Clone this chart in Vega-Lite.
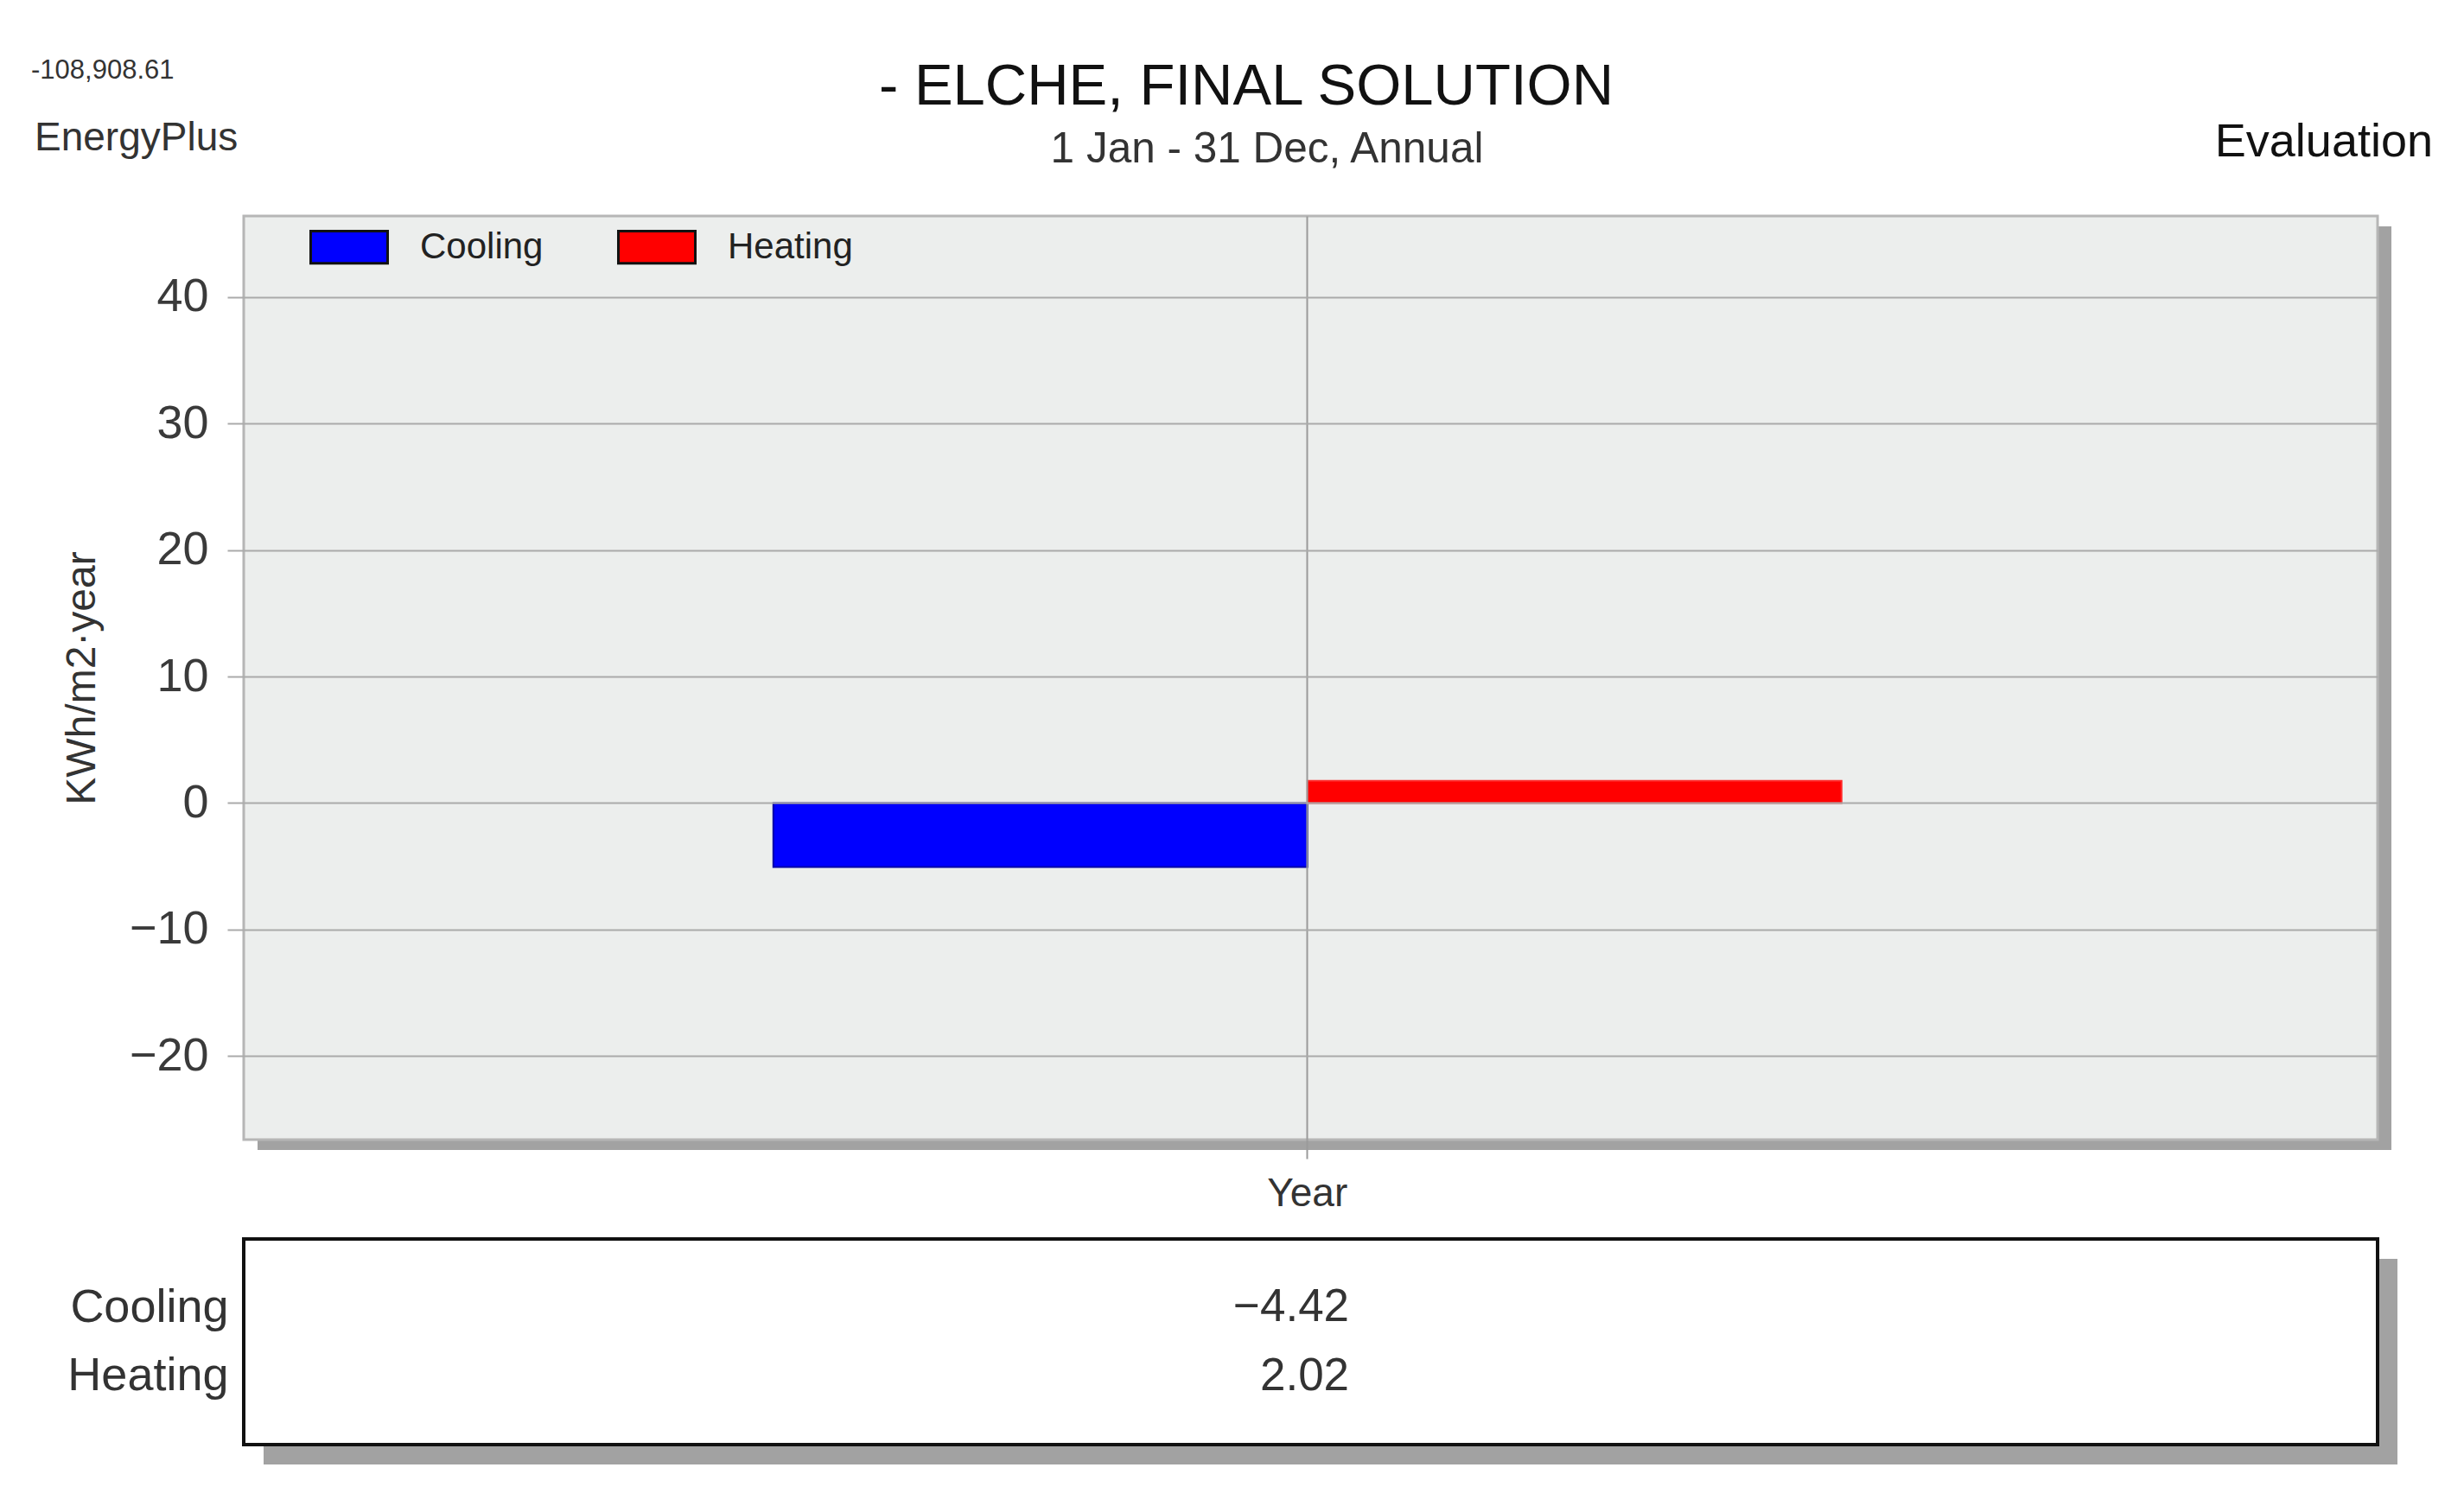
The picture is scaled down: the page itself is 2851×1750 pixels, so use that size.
{
  "$schema": "https://vega.github.io/schema/vega-lite/v6.json",
  "background": "white",
  "padding": {"left": 36, "top": 66, "right": 20, "bottom": 20},
  "config": {
    "view": {"stroke": null},
    "font": "Liberation Sans"
  },
  "datasets": {
    "energy": [
      {"period": "Year", "type": "Cooling", "value": -4.42, "bar": -5.05},
      {"period": "Year", "type": "Heating", "value": 2.02, "bar": 1.75}
    ]
  },
  "resolve": {"scale": {"color": "independent", "x": "independent", "y": "independent"}, "legend": {"color": "independent"}},
  "spacing": 28,
  "vconcat": [
    {
      "width": 2469,
      "height": 1069,
      "layer": [
        {
          "data": {"values": [{}]},
          "mark": {"type": "rect", "x": 16, "x2": 2485, "y": 12, "y2": 1081, "fill": "#a2a2a2"},
          "encoding": {}
        },
        {
          "data": {"values": [{}]},
          "mark": {"type": "rect", "x": 0, "x2": "width", "y": 0, "y2": "height", "fill": "#eceeed", "stroke": "#b6b6b6", "strokeWidth": 3},
          "encoding": {}
        },
        {
          "data": {"name": "energy"},
          "mark": {"type": "bar", "strokeWidth": 2},
          "encoding": {
            "x": {
              "field": "period", "type": "nominal",
              "scale": {"paddingInner": 0, "paddingOuter": 0.4988, "align": 0.497},
              "axis": {"title": null, "grid": true, "bandPosition": 0.5, "gridColor": "#9a9a9a", "gridWidth": 2, "tickColor": "#9a9a9a", "tickWidth": 2, "tickSize": 22, "domain": false, "labelAngle": 0, "labelFont": "Liberation Sans", "labelFontSize": 46, "labelColor": "#333333", "labelPadding": 18, "zindex": 1}
            },
            "xOffset": {"field": "type", "type": "nominal", "scale": {"paddingInner": 0, "paddingOuter": 0}},
            "y": {
              "field": "bar", "type": "quantitative",
              "scale": {"domain": [-26.6, 46.4], "nice": false, "zero": false},
              "axis": {"title": "KWh/m2·year", "values": [-20, -10, 0, 10, 20, 30, 40], "grid": true, "gridColor": "#aaaaaa", "gridWidth": 2, "tickColor": "#aaaaaa", "tickWidth": 2, "tickSize": 19, "domain": false, "labelFont": "Liberation Sans", "labelFontSize": 54, "labelColor": "#3a3a3a", "labelPadding": 22, "titleFont": "Liberation Sans", "titleFontSize": 48, "titleFontWeight": "normal", "titleColor": "#333333", "titlePadding": 30, "zindex": 1}
            },
            "color": {
              "field": "type", "type": "nominal",
              "scale": {"domain": ["Cooling", "Heating"], "range": ["#0000ff", "#ff0000"]},
              "legend": {"title": null, "orient": "none", "legendX": 76, "legendY": -10, "direction": "horizontal", "symbolType": "M-1,-0.42H1V0.42H-1Z", "symbolSize": 7921, "symbolStrokeColor": "#111111", "symbolStrokeWidth": 3, "symbolOpacity": 1, "labelFont": "Liberation Sans", "labelFontSize": 42, "labelColor": "#222222", "labelOffset": 36, "columnPadding": 80, "zindex": 2}
            },
            "stroke": {
              "field": "type", "type": "nominal",
              "scale": {"domain": ["Cooling", "Heating"], "range": ["#0000a8", "#ff2a2a"]},
              "legend": null
            }
          }
        },
        {
          "data": {"values": [{}]},
          "mark": {"type": "text", "text": "- ELCHE, FINAL SOLUTION", "x": 1160, "y": -129, "align": "center", "baseline": "alphabetic", "font": "Liberation Sans", "fontSize": 67, "fill": "#111111"},
          "encoding": {}
        },
        {
          "data": {"values": [{}]},
          "mark": {"type": "text", "text": "1 Jan - 31 Dec, Annual", "x": 1184, "y": -62, "align": "center", "baseline": "alphabetic", "font": "Liberation Sans", "fontSize": 49.5, "fill": "#333333"},
          "encoding": {}
        },
        {
          "data": {"values": [{}]},
          "mark": {"type": "text", "text": "-108,908.61", "x": -246, "y": -159, "align": "left", "baseline": "alphabetic", "font": "Liberation Sans", "fontSize": 31, "fill": "#333333"},
          "encoding": {}
        },
        {
          "data": {"values": [{}]},
          "mark": {"type": "text", "text": "EnergyPlus", "x": -242, "y": -76, "align": "left", "baseline": "alphabetic", "font": "Liberation Sans", "fontSize": 46, "fill": "#333333"},
          "encoding": {}
        },
        {
          "data": {"values": [{}]},
          "mark": {"type": "text", "text": "Evaluation", "x": 2533, "y": -69, "align": "right", "baseline": "alphabetic", "font": "Liberation Sans", "fontSize": 54, "fill": "#111111"},
          "encoding": {}
        }
      ]
    },
    {
      "width": 2469,
      "height": 238,
      "layer": [
        {
          "data": {"values": [{}]},
          "mark": {"type": "rect", "x": 23, "x2": 2492, "y": 23, "y2": 261, "fill": "#a2a2a2"},
          "encoding": {}
        },
        {
          "data": {"values": [{}]},
          "mark": {"type": "rect", "x": 0, "x2": "width", "y": 0, "y2": "height", "fill": "white", "stroke": "#111111", "strokeWidth": 4},
          "encoding": {}
        },
        {
          "data": {"name": "energy"},
          "mark": {"type": "text", "font": "Liberation Sans", "fontSize": 53, "fill": "#333333", "align": "right", "baseline": "middle", "dx": 52},
          "encoding": {
            "x": {"field": "period", "type": "nominal", "scale": {"paddingInner": 0, "paddingOuter": 0.4988, "align": 0.497}, "axis": null},
            "y": {
              "field": "type", "type": "nominal",
              "scale": {"type": "point", "domain": ["Cooling", "Heating"], "padding": 1.3},
              "axis": {"title": null, "domain": false, "ticks": false, "labelFont": "Liberation Sans", "labelFontSize": 54, "labelLimit": 500, "labelColor": "#333333", "labelPadding": 18, "zindex": 1}
            },
            "text": {"field": "value", "type": "quantitative", "format": ".2f"}
          }
        }
      ]
    }
  ]
}
